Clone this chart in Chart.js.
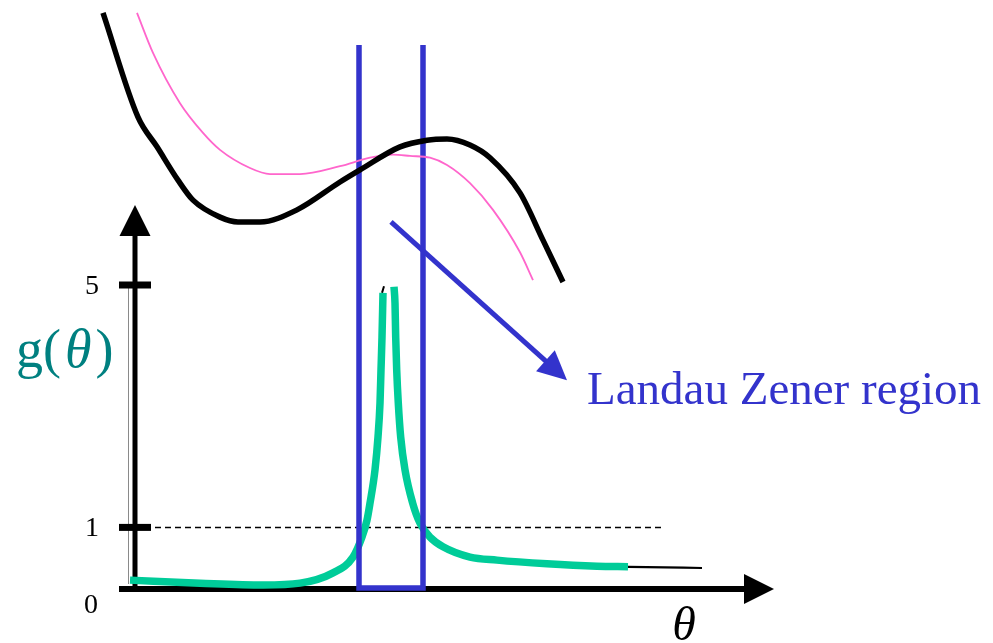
<!DOCTYPE html>
<html>
<head>
<meta charset="utf-8">
<title>g(θ)</title>
<script src="https://cdn.jsdelivr.net/npm/chart.js@4/dist/chart.umd.min.js"></script>
<style>
  html, body { margin: 0; padding: 0; background: #fff; }
  canvas { display: block; }
</style>
</head>
<body>
<canvas id="chart" width="993" height="643"></canvas>
<script>
// lower adiabatic potential (thick black)
const lowerTheta = [-0.32, 0.03, 0.22, 0.43, 0.58, 0.85, 1.03, 1.25, 1.62, 2.05, 2.25, 2.65, 2.92, 3.12, 3.35, 3.55, 3.85, 4.08, 4.28];
const lowerE     = [9.49, 7.77, 7.28, 6.73, 6.40, 6.12, 6.04, 6.04, 6.24, 6.70, 6.90, 7.28, 7.39, 7.41, 7.31, 7.10, 6.52, 5.74, 5.05];

// second potential (thin pink)
const upperTheta = [0.02, 0.18, 0.45, 0.68, 0.85, 1.15, 1.35, 1.65, 2.05, 2.35, 2.58, 2.75, 2.95, 3.12, 3.35, 3.58, 3.85, 3.98];
const upperE     = [9.49, 8.83, 8.00, 7.51, 7.23, 6.93, 6.83, 6.83, 6.96, 7.10, 7.15, 7.13, 7.10, 6.98, 6.68, 6.24, 5.54, 5.08];

// g(theta), broken at the peak (null)
const gTheta  = [-0.05, 0.65, 1.28, 1.65, 1.98, 2.18, 2.27, 2.32, 2.35, 2.40, 2.43, 2.45, 2.46, 2.47, 2.48,
                 2.535,
                 2.59, 2.60, 2.607, 2.617, 2.633, 2.657, 2.70, 2.777, 2.85, 2.95, 3.08, 3.35, 3.62, 4.12, 4.62, 4.93];
const gValues = [0.13, 0.08, 0.05, 0.08, 0.25, 0.51, 0.84, 1.12, 1.40, 1.95, 2.49, 3.05, 3.60, 4.14, 4.87,
                 null,
                 4.97, 4.70, 4.14, 3.60, 3.05, 2.49, 1.95, 1.40, 1.07, 0.84, 0.68, 0.51, 0.46, 0.40, 0.36, 0.35];

// thin black continuation of g and the stub at the top of the peak
const tailTheta  = [4.93, 5.30, 5.67];
const tailValues = [0.35, 0.34, 0.33];
const stubTheta  = [2.47, 2.49];
const stubValues = [4.87, 4.98];

// reference level g = 1
const refTheta  = [0, 5.30];
const refValues = [1, 1];

// Landau-Zener window
const lzTheta  = [2.24, 2.24, 2.88, 2.88];
const lzValues = [8.96, 0, 0, 8.96];

// arrow from the crossing to the label
const arrowFrom = [2.56, 6.04];
const arrowTo   = [4.32, 3.43];
const lzLabel = 'Landau Zener region';
const lzLabelAt = [4.52, 3.03];

// axes
const yTicks = [1, 5];
const yTickLabels = ['1', '5'];
const originLabel = '0';
const xAxisStart = -0.16, xAxisEnd = 6.39, yAxisEnd = 6.32;

const BLUE = '#3333CC';
const SERIF = '"Liberation Serif", "Times New Roman", serif';

const pts = (xs, ys) => xs.map((v, i) => ({ x: v, y: ys[i] }));

function arrowHead(ctx, tipX, tipY, dx, dy, len, half) {
  const bx = tipX - dx * len, by = tipY - dy * len;
  ctx.beginPath();
  ctx.moveTo(tipX, tipY);
  ctx.lineTo(bx - dy * half, by + dx * half);
  ctx.lineTo(bx + dy * half, by - dx * half);
  ctx.closePath();
  ctx.fill();
}

const sketch = {
  id: 'sketch',
  beforeDatasetsDraw(chart) {
    const { ctx, scales: { x, y } } = chart;
    const ox = x.getPixelForValue(0), oy = y.getPixelForValue(0);
    ctx.save();

    // faint rule beside the axis
    ctx.strokeStyle = '#8a8a8a';
    ctx.lineWidth = 1;
    ctx.beginPath();
    ctx.moveTo(ox - 6.5, y.getPixelForValue(5) + 3);
    ctx.lineTo(ox - 6.5, oy - 4);
    ctx.stroke();

    ctx.fillStyle = '#000';
    ctx.strokeStyle = '#000';

    // y axis
    const yTip = y.getPixelForValue(yAxisEnd);
    ctx.lineWidth = 5;
    ctx.beginPath();
    ctx.moveTo(ox, oy + 3);
    ctx.lineTo(ox, yTip + 28);
    ctx.stroke();
    arrowHead(ctx, ox, yTip, 0, -1, 31, 15.5);

    // x axis
    const xTip = x.getPixelForValue(xAxisEnd);
    ctx.lineWidth = 6;
    ctx.beginPath();
    ctx.moveTo(x.getPixelForValue(xAxisStart), oy + 1);
    ctx.lineTo(xTip - 28, oy + 1);
    ctx.stroke();
    arrowHead(ctx, xTip, oy + 1, 1, 0, 30, 15);

    // tick marks and labels
    ctx.font = '28px ' + SERIF;
    ctx.textAlign = 'right';
    ctx.textBaseline = 'alphabetic';
    yTicks.forEach((v, i) => {
      const py = y.getPixelForValue(v);
      ctx.fillRect(ox - 16, py - 3.5, 32, 7);
      ctx.fillText(yTickLabels[i], ox - 36, py + 9);
    });
    ctx.textAlign = 'center';
    ctx.fillText(originLabel, ox - 44, oy + 25);

    // axis titles
    ctx.font = 'italic 48px ' + SERIF;
    ctx.fillText('θ', 684, 640);

    ctx.fillStyle = '#008080';
    ctx.textAlign = 'left';
    ctx.font = '54px ' + SERIF;
    let cx = 16;
    ctx.fillText('g(', cx, 367);
    cx += ctx.measureText('g(').width + 4;
    ctx.font = 'italic 54px ' + SERIF;
    ctx.fillText('θ', cx, 367);
    cx += ctx.measureText('θ').width + 4;
    ctx.font = '54px ' + SERIF;
    ctx.fillText(')', cx, 367);

    ctx.restore();
  },
  afterDatasetsDraw(chart) {
    const { ctx, scales: { x, y } } = chart;
    const x1 = x.getPixelForValue(arrowFrom[0]), y1 = y.getPixelForValue(arrowFrom[1]);
    const x2 = x.getPixelForValue(arrowTo[0]), y2 = y.getPixelForValue(arrowTo[1]);
    const len = Math.hypot(x2 - x1, y2 - y1);
    const dx = (x2 - x1) / len, dy = (y2 - y1) / len;
    ctx.save();
    ctx.strokeStyle = BLUE;
    ctx.fillStyle = BLUE;
    ctx.lineWidth = 5;
    ctx.beginPath();
    ctx.moveTo(x1, y1);
    ctx.lineTo(x2 - dx * 24, y2 - dy * 24);
    ctx.stroke();
    arrowHead(ctx, x2, y2, dx, dy, 29, 14);

    ctx.font = '47px ' + SERIF;
    ctx.textAlign = 'left';
    ctx.textBaseline = 'alphabetic';
    ctx.fillText(lzLabel, x.getPixelForValue(lzLabelAt[0]), y.getPixelForValue(lzLabelAt[1]));
    ctx.restore();
  }
};

new Chart(document.getElementById('chart'), {
  type: 'line',
  data: {
    datasets: [
      { data: pts(lowerTheta, lowerE), borderColor: '#000', borderWidth: 5.5, order: 1 },
      { data: pts(upperTheta, upperE), borderColor: '#FF66CC', borderWidth: 1.8, order: 1 },
      { data: pts(lzTheta, lzValues), borderColor: BLUE, borderWidth: 5.5, order: 2,
        cubicInterpolationMode: 'default', tension: 0, borderJoinStyle: 'miter' },
      { data: pts(gTheta, gValues), borderColor: '#00CC99', borderWidth: 7.5, order: 3 },
      { data: pts(stubTheta, stubValues), borderColor: '#000', borderWidth: 2, order: 4 },
      { data: pts(tailTheta, tailValues), borderColor: '#000', borderWidth: 2.2, order: 4 },
      { data: pts(refTheta, refValues), borderColor: '#000', borderWidth: 1.5, borderDash: [6, 4], order: 5,
        cubicInterpolationMode: 'default', tension: 0 }
    ]
  },
  options: {
    responsive: false,
    animation: false,
    layout: { padding: 0 },
    elements: {
      point: { radius: 0, hoverRadius: 0 },
      line: { cubicInterpolationMode: 'monotone', borderCapStyle: 'butt', borderJoinStyle: 'round', fill: false }
    },
    scales: {
      x: { type: 'linear', display: false, min: -1.35, max: 8.58 },
      y: { type: 'linear', display: false, min: -0.9076, max: 9.703 }
    },
    plugins: { legend: { display: false }, tooltip: { enabled: false } }
  },
  plugins: [sketch]
});
</script>
</body>
</html>
